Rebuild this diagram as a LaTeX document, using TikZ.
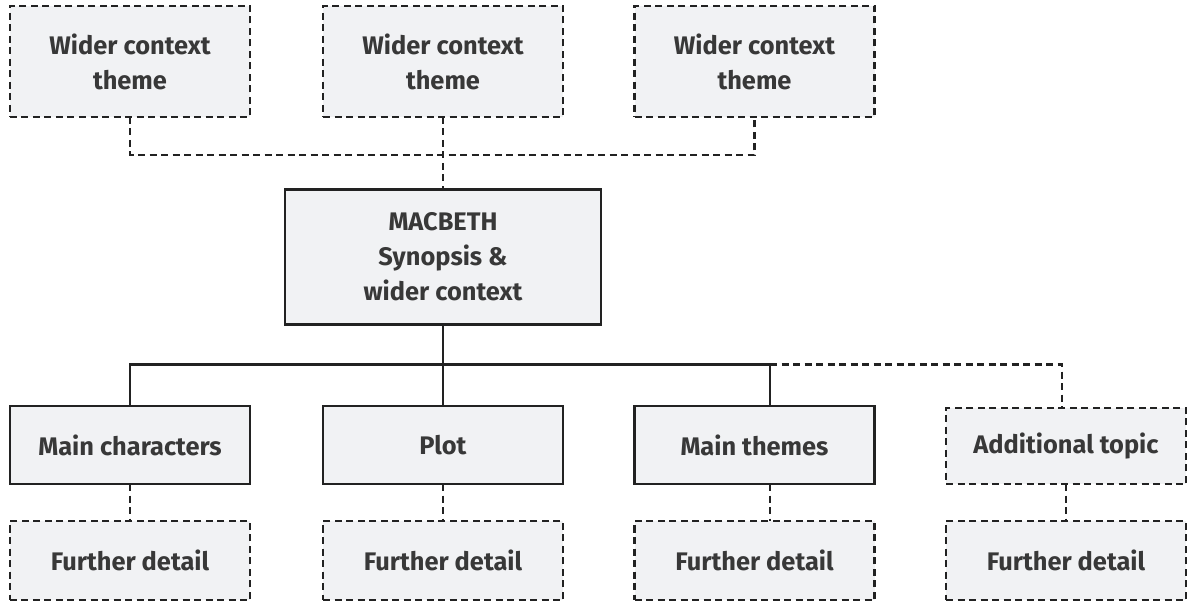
\documentclass[tikz,border=0pt]{standalone}
\usepackage{fontspec}
\setmainfont{Fira Sans}
\begin{document}
\begin{tikzpicture}[x=1bp,y=-1bp,
  every node/.style={inner sep=0pt, outer sep=0pt},
  box/.style={rectangle, draw=lineC, fill=fillC, line width=2.8bp, text=textC,
    font=\fontsize{25.5}{35}\selectfont\bfseries, align=center},
  dbox/.style={box, dash pattern=on 7bp off 4.5bp},
  conn/.style={draw=lineC, line width=2.8bp},
  dconn/.style={conn, dash pattern=on 7bp off 4.5bp}]
\definecolor{lineC}{HTML}{222222}
\definecolor{fillC}{HTML}{F1F2F4}
\definecolor{textC}{HTML}{383838}
\useasboundingbox (0,0) rectangle (1188,602);
% top row
\node[dbox, minimum width=240bp, minimum height=111bp] (wc1) at (130,61.5) {Wider context\\theme};
\node[dbox, minimum width=240bp, minimum height=111bp] (wc2) at (443,61.5) {Wider context\\theme};
\node[dbox, minimum width=240bp, minimum height=111bp] (wc3) at (754.5,61.5) {Wider context\\theme};
% main
\node[box, minimum width=316bp, minimum height=135bp] (main) at (443,257) {MACBETH\\Synopsis \&\\wider context};
% middle row
\node[box, minimum width=240bp, minimum height=78bp] (mc) at (130,445) {Main characters};
\node[box, minimum width=240bp, minimum height=78bp] (pl) at (443,445) {Plot};
\node[box, minimum width=240bp, minimum height=78bp] (mt) at (754.5,445) {Main themes};
\node[dbox, minimum width=240bp, minimum height=76bp] (at) at (1066,446) {Additional topic};
% bottom row
\node[dbox, minimum width=240bp, minimum height=79bp] (fd1) at (130,560.5) {Further detail};
\node[dbox, minimum width=240bp, minimum height=79bp] (fd2) at (443,560.5) {Further detail};
\node[dbox, minimum width=240bp, minimum height=79bp] (fd3) at (754.5,560.5) {Further detail};
\node[dbox, minimum width=240bp, minimum height=79bp] (fd4) at (1066,560.5) {Further detail};
% coordinates
\coordinate (topbus) at (443,155);
\coordinate (bus) at (443,364.5);
\coordinate (mtn) at (770,406);
\coordinate (mts) at (770,484);
\coordinate (atn) at (1062,408);
% top connectors
\draw[dconn] (wc1.south) -- (wc1.south |- topbus) -- (wc3.south |- topbus) -- (wc3.south);
\draw[dconn] (wc2.south) -- (main.north);
% main to middle
\draw[conn] (main.south) -- (bus);
\draw[conn] (mc.north) -- (mc.north |- bus) -- (mtn |- bus) -- (mtn);
\draw[conn] (pl.north) -- (bus);
\draw[dconn] (mtn |- bus) -- (atn |- bus) -- (atn);
% middle to bottom
\draw[dconn] (mc.south) -- (fd1.north);
\draw[dconn] (pl.south) -- (fd2.north);
\draw[dconn] (mts) -- (mts |- fd3.north);
\draw[dconn] (at.south) -- (fd4.north);
\end{tikzpicture}
\end{document}
